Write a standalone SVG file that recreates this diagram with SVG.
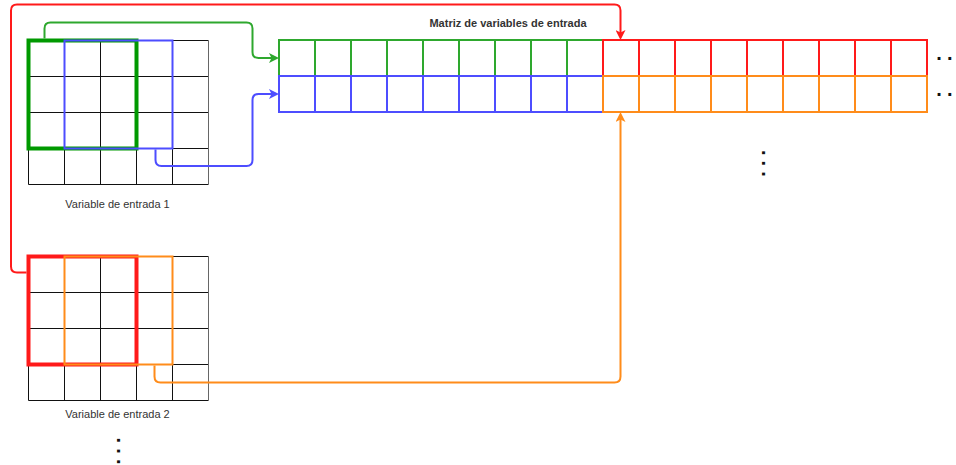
<svg xmlns="http://www.w3.org/2000/svg" width="956" height="465" viewBox="0 0 956 465">
  <style>
    .grid line { stroke: #111; stroke-width: 1; }
    .grid .edge { stroke: #666; }
    .win-thick { fill: none; stroke-width: 4; }
    .win-thin { fill: none; stroke-width: 2; }
    .cell { fill: none; stroke-width: 2; }
    .green { stroke: #009900; }
    .green-l { stroke: #2ea82e; }
    .blue { stroke: #4d4dff; }
    .red { stroke: #ff1a1a; }
    .orange { stroke: #ff8c1a; }
    .conn { fill: none; stroke-width: 2; }
    .label { font-family: "Liberation Sans", Arial, sans-serif; font-size: 11px; fill: #333; text-anchor: middle; }
    .title { font-weight: bold; }
    .dots { font-family: "Liberation Sans", Arial, sans-serif; font-size: 20px; font-weight: bold; fill: #111; }
  </style>
  <defs>
    <marker id="arrow-green" viewBox="0 0 10 10" refX="6" refY="5" markerWidth="10" markerHeight="10" markerUnits="userSpaceOnUse" orient="auto">
      <path d="M0,0 L10,5 L0,10 L2.5,5 Z" fill="#2ea82e"/>
    </marker>
    <marker id="arrow-blue" viewBox="0 0 10 10" refX="6" refY="5" markerWidth="10" markerHeight="10" markerUnits="userSpaceOnUse" orient="auto">
      <path d="M0,0 L10,5 L0,10 L2.5,5 Z" fill="#4d4dff"/>
    </marker>
    <marker id="arrow-red" viewBox="0 0 10 10" refX="6" refY="5" markerWidth="10" markerHeight="10" markerUnits="userSpaceOnUse" orient="auto">
      <path d="M0,0 L10,5 L0,10 L2.5,5 Z" fill="#ff1a1a"/>
    </marker>
    <marker id="arrow-orange" viewBox="0 0 10 10" refX="6" refY="5" markerWidth="10" markerHeight="10" markerUnits="userSpaceOnUse" orient="auto">
      <path d="M0,0 L10,5 L0,10 L2.5,5 Z" fill="#ff8c1a"/>
    </marker>
    <!-- 5x4 grid of 36px cells -->
    <g id="grid5x4" class="grid">
      <line x1="0" y1="0" x2="180" y2="0"/>
      <line x1="0" y1="36" x2="180" y2="36"/>
      <line x1="0" y1="72" x2="180" y2="72"/>
      <line x1="0" y1="108" x2="180" y2="108"/>
      <line x1="0" y1="144" x2="180" y2="144"/>
      <line x1="0" y1="0" x2="0" y2="144"/>
      <line x1="36" y1="0" x2="36" y2="144"/>
      <line x1="72" y1="0" x2="72" y2="144"/>
      <line x1="108" y1="0" x2="108" y2="144"/>
      <line x1="144" y1="0" x2="144" y2="144"/>
      <line class="edge" x1="180" y1="0" x2="180" y2="144"/>
    </g>
    <!-- row of nine 36px cells -->
    <g id="row9">
      <rect x="0" y="0" width="36" height="36"/>
      <rect x="36" y="0" width="36" height="36"/>
      <rect x="72" y="0" width="36" height="36"/>
      <rect x="108" y="0" width="36" height="36"/>
      <rect x="144" y="0" width="36" height="36"/>
      <rect x="180" y="0" width="36" height="36"/>
      <rect x="216" y="0" width="36" height="36"/>
      <rect x="252" y="0" width="36" height="36"/>
      <rect x="288" y="0" width="36" height="36"/>
    </g>
  </defs>

  <rect width="956" height="465" fill="#fff"/>

  <!-- first input variable -->
  <g id="input-1">
    <use href="#grid5x4" x="28.5" y="40.5"/>
    <rect class="win-thick green" x="28.5" y="40.5" width="108" height="108"/>
    <rect class="win-thin blue" x="64.5" y="40.5" width="108" height="108"/>
    <text class="label" x="117.5" y="208">Variable de entrada 1</text>
  </g>

  <!-- second input variable -->
  <g id="input-2">
    <use href="#grid5x4" x="28.5" y="256.5"/>
    <rect class="win-thick red" x="28.5" y="256.5" width="108" height="108"/>
    <rect class="win-thin orange" x="64.5" y="256.5" width="108" height="108"/>
    <text class="label" x="117.5" y="418">Variable de entrada 2</text>
  </g>

  <!-- input matrix -->
  <g id="matrix">
    <text class="label title" x="508" y="26.5">Matriz de variables de entrada</text>
    <use href="#row9" class="cell green-l" x="279" y="40"/>
    <use href="#row9" class="cell red" x="603" y="40"/>
    <use href="#row9" class="cell blue" x="279" y="76"/>
    <use href="#row9" class="cell orange" x="603" y="76"/>
  </g>

  <!-- continuation marks -->
  <g id="ellipsis-rows">
    <text class="dots" x="936.2 946.9" y="60">..</text>
    <text class="dots" x="936.2 946.9" y="95.6">..</text>
  </g>
  <g id="ellipsis-matrix">
    <text class="dots" transform="translate(763.7,152.7) rotate(90)" x="-2.8 7.9 18.5" y="1.4">...</text>
  </g>
  <g id="ellipsis-inputs">
    <text class="dots" transform="translate(118.3,440.4) rotate(90)" x="-2.8 7.9 18.5" y="1.4">...</text>
  </g>

  <!-- connectors -->
  <g id="connectors">
    <path class="conn green-l" marker-end="url(#arrow-green)" d="M44.5,38.5 V28.5 Q44.5,22.5 50.5,22.5 H246.5 Q252.5,22.5 252.5,28.5 V52 Q252.5,58 258.5,58 H275"/>
    <path class="conn blue" marker-end="url(#arrow-blue)" d="M155.5,149.5 V160 Q155.5,166 161.5,166 H246.5 Q252.5,166 252.5,160 V100 Q252.5,94 258.5,94 H275"/>
    <path class="conn red" marker-end="url(#arrow-red)" d="M26.5,272.5 H17 Q11,272.5 11,266.5 V10.5 Q11,4.5 17,4.5 H614.5 Q620.5,4.5 620.5,10.5 V36"/>
    <path class="conn orange" marker-end="url(#arrow-orange)" d="M154.5,365.5 V376.5 Q154.5,382.5 160.5,382.5 H614.5 Q620.5,382.5 620.5,376.5 V116"/>
  </g>
</svg>
